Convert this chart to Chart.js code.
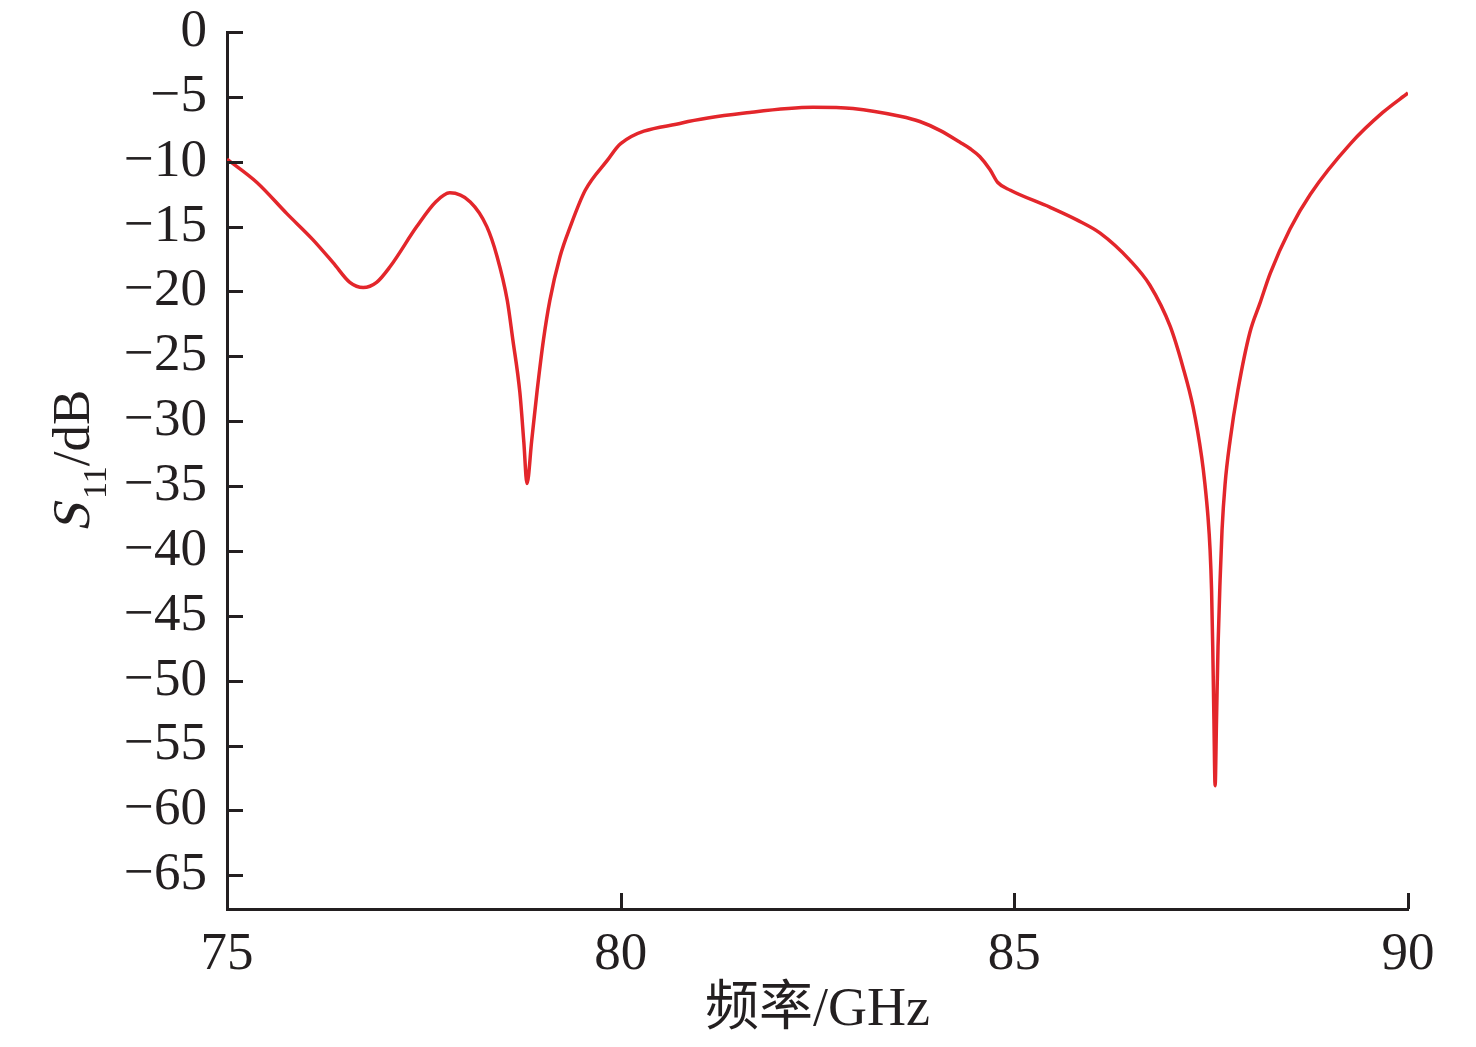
<!DOCTYPE html>
<html>
<head>
<meta charset="utf-8">
<script src="https://cdn.jsdelivr.net/npm/chart.js@4/dist/chart.umd.min.js"></script>
<style>
  html, body { margin: 0; padding: 0; background: #fff; }
  #wrap { width: 1476px; height: 1047px; position: relative; }
</style>
</head>
<body>
<div id="wrap"><canvas id="s11Chart"></canvas></div>
<script>
// frequency (GHz) and S11 (dB)
const freq = [75.0, 75.38, 75.76, 76.09, 76.35, 76.56, 76.73, 76.9, 77.07, 77.41, 77.65, 77.83,
  78.09, 78.3, 78.43, 78.56, 78.63, 78.72, 78.77, 78.81, 78.87, 78.94, 79.02, 79.1, 79.23, 79.36,
  79.55, 79.83, 80.0, 80.79, 81.64, 82.44, 82.95, 83.55, 83.8, 84.06, 84.31, 84.44, 84.56, 84.69,
  84.79, 84.95, 85.45, 85.8, 86.09, 86.47, 86.72, 86.98, 87.14, 87.27, 87.38, 87.42, 87.46,
  87.486, 87.505, 87.52, 87.535, 87.55, 87.568, 87.587, 87.613, 87.638, 87.676, 87.74, 87.84,
  87.99, 88.12, 88.25, 88.5, 88.76, 89.27, 89.68, 90.0];
const s11 = [-9.8, -11.6, -14.0, -16.0, -17.8, -19.3, -19.7, -19.3, -18.1, -15.0, -13.1, -12.4,
  -13.1, -15.0, -17.3, -20.7, -23.7, -27.8, -31.6, -34.8, -31.5, -27.6, -23.7, -20.7, -17.3, -15.0,
  -12.2, -9.9, -8.6, -7.0, -6.2, -5.8, -5.9, -6.5, -6.9, -7.6, -8.5, -9.0, -9.6, -10.6,
  -11.6, -12.2, -13.5, -14.5, -15.5, -17.6, -19.5, -22.7, -25.8, -28.9, -32.8, -34.8, -37.4,
  -39.9, -43.0, -47.4, -53.0, -58.1, -53.0, -47.4, -42.3, -38.4, -34.9, -31.5, -27.6,
  -23.2, -20.9, -18.6, -15.2, -12.5, -8.6, -6.2, -4.7];

const xTicks = [75, 80, 85, 90];
const yTicks = [0, -5, -10, -15, -20, -25, -30, -35, -40, -45, -50, -55, -60, -65];

const axisColor = '#231f20';
const serif = '"Liberation Serif", "Times New Roman", "Noto Sans CJK SC", serif';

const points = freq.map((f, i) => ({ x: f, y: s11[i] }));

// inward tick marks and axis titles
const decorPlugin = {
  id: 'decor',
  afterDraw(chart) {
    const ctx = chart.ctx;
    const xs = chart.scales.x, ys = chart.scales.y;
    const area = chart.chartArea;
    ctx.save();
    ctx.strokeStyle = axisColor;
    ctx.lineWidth = 3;
    ctx.beginPath();
    yTicks.forEach(v => {
      const py = Math.round(ys.getPixelForValue(v)) + 0.5;
      ctx.moveTo(area.left, py);
      ctx.lineTo(area.left + 16, py);
    });
    xTicks.slice(1).forEach(v => {
      const px = Math.round(xs.getPixelForValue(v)) + 0.5;
      ctx.moveTo(px, area.bottom);
      ctx.lineTo(px, area.bottom - 16);
    });
    ctx.stroke();

    // x title
    ctx.fillStyle = '#231f20';
    ctx.font = '54px ' + serif;
    ctx.textAlign = 'center';
    ctx.textBaseline = 'alphabetic';
    ctx.fillText('频率/GHz', (area.left + area.right) / 2, 1025);

    // y title: S11/dB, rotated, S slanted
    ctx.translate(89, 461);
    ctx.rotate(-Math.PI / 2);
    ctx.textAlign = 'left';
    const mainFont = '53px ' + serif;
    const subFont = '34px ' + serif;
    ctx.font = mainFont;
    const wS = ctx.measureText('S').width + 4;
    const wDb = ctx.measureText('/dB').width;
    ctx.font = subFont;
    const w11 = ctx.measureText('11').width;
    const total = wS + w11 + wDb;
    let x0 = -total / 2;
    ctx.save();
    ctx.translate(x0, 0);
    ctx.transform(1, 0, -0.22, 1, 0, 0);
    ctx.font = mainFont;
    ctx.fillText('S', 0, 0);
    ctx.restore();
    x0 += wS;
    ctx.font = subFont;
    ctx.fillText('11', x0, 17);
    x0 += w11;
    ctx.font = mainFont;
    ctx.fillText('/dB', x0, 0);
    ctx.restore();
  }
};

new Chart(document.getElementById('s11Chart'), {
  type: 'line',
  data: {
    datasets: [{
      label: 'S11',
      data: points,
      borderColor: '#e3262b',
      borderWidth: 3.5,
      pointRadius: 0,
      fill: false,
      cubicInterpolationMode: 'monotone'
    }]
  },
  options: {
    responsive: true,
    maintainAspectRatio: false,
    animation: false,
    layout: { padding: { top: 32, right: 68, left: 0, bottom: 0 } },
    plugins: { legend: { display: false }, tooltip: { enabled: false } },
    scales: {
      x: {
        type: 'linear',
        min: 75,
        max: 90,
        afterFit: s => { s.height = 138; s.paddingLeft = 0; s.paddingRight = 0; },
        afterBuildTicks: s => { s.ticks = xTicks.map(v => ({ value: v })); },
        grid: { display: false, drawTicks: false },
        border: { display: true, color: axisColor, width: 3 },
        ticks: {
          color: '#231f20',
          padding: 14,
          autoSkip: false,
          font: { family: serif, size: 53 },
          maxRotation: 0
        }
      },
      y: {
        type: 'linear',
        min: -67.6,
        max: 0,
        afterFit: s => { s.width = 227; s.paddingTop = 0; s.paddingBottom = 0; },
        afterBuildTicks: s => { s.ticks = yTicks.map(v => ({ value: v })); },
        grid: { display: false, drawTicks: false },
        border: { display: true, color: axisColor, width: 3 },
        ticks: {
          color: '#231f20',
          padding: 20,
          autoSkip: false,
          font: { family: serif, size: 53 },
          callback: v => (v < 0 ? '\u2212' + Math.abs(v) : String(v))
        }
      }
    }
  },
  plugins: [decorPlugin]
});
</script>
</body>
</html>
